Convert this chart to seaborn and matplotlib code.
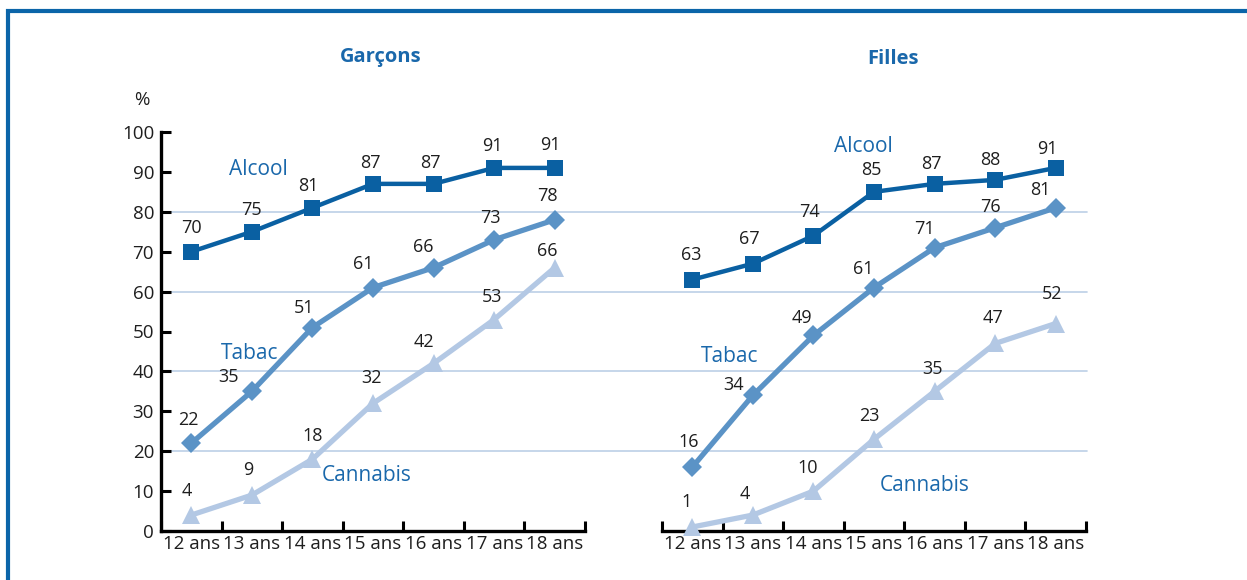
import matplotlib
matplotlib.use("Agg")
import matplotlib.pyplot as plt
from matplotlib.patches import Rectangle
import pandas as pd
import seaborn as sns

# --- data -------------------------------------------------------------
ages = ["12 ans", "13 ans", "14 ans", "15 ans", "16 ans", "17 ans", "18 ans"]
panels = ["Garçons", "Filles"]
substances = ["Alcool", "Tabac", "Cannabis"]

garcons_alcool = [70, 75, 81, 87, 87, 91, 91]
garcons_tabac = [22, 35, 51, 61, 66, 73, 78]
garcons_cannabis = [4, 9, 18, 32, 42, 53, 66]

filles_alcool = [63, 67, 74, 85, 87, 88, 91]
filles_tabac = [16, 34, 49, 61, 71, 76, 81]
filles_cannabis = [1, 4, 10, 23, 35, 47, 52]

y_ticks = [0, 10, 20, 30, 40, 50, 60, 70, 80, 90, 100]
grid_levels = [20, 40, 60, 80]

values = {
    ("Garçons", "Alcool"): garcons_alcool,
    ("Garçons", "Tabac"): garcons_tabac,
    ("Garçons", "Cannabis"): garcons_cannabis,
    ("Filles", "Alcool"): filles_alcool,
    ("Filles", "Tabac"): filles_tabac,
    ("Filles", "Cannabis"): filles_cannabis,
}

rows = []
for (panel, sub), vals in values.items():
    for i, (age, v) in enumerate(zip(ages, vals)):
        rows.append({"panel": panel, "substance": sub, "pos": i, "age": age, "value": v})
df = pd.DataFrame(rows)

# --- styling ----------------------------------------------------------
sns.set_style("white")
plt.rcParams["font.family"] = ["Open Sans", "DejaVu Sans"]

BLUE_TEXT = "#1a68ab"
FRAME = "#0b65a9"
GRID = "#bccfe6"
TXT = "#1e1e1e"
styles = {
    "Alcool": dict(color="#0a60a2", marker="s", markersize=11, linewidth=3.2),
    "Tabac": dict(color="#5b93c6", marker="D", markersize=10.5, linewidth=3.8),
    "Cannabis": dict(color="#b3c8e4", marker="^", markersize=13.5, linewidth=3.8),
}

# label offsets in pixels (dx, dy) relative to each marker
offsets = {
    ("Garçons", "Alcool"): [(0, 24), (0, 22), (-4, 22), (-3, 21), (-3, 21), (-2, 22), (-4, 23)],
    ("Garçons", "Tabac"): [(-3, 23), (-23, 14), (-8, 20), (-10, 24), (-10, 21), (-4, 22), (-7, 24)],
    ("Garçons", "Cannabis"): [(-4, 24), (-4, 25), (0, 23), (-1, 25), (-10, 21), (-2, 23), (-7, 17)],
    ("Filles", "Alcool"): [(-1, 25), (-4, 25), (-4, 24), (-3, 22), (-3, 20), (-5, 20), (-8, 19)],
    ("Filles", "Tabac"): [(-4, 25), (-19, 10), (-11, 17), (-11, 19), (-10, 19), (-5, 21), (-15, 18)],
    ("Filles", "Cannabis"): [(-6, 25), (-8, 21), (-6, 23), (-5, 23), (-2, 22), (-2, 25), (-4, 30)],
}

# series name positions (data coordinates)
name_pos = {
    ("Garçons", "Alcool"): (1.1, 90.5),
    ("Garçons", "Tabac"): (0.97, 44.5),
    ("Garçons", "Cannabis"): (2.9, 14.0),
    ("Filles", "Alcool"): (2.82, 96.3),
    ("Filles", "Tabac"): (0.61, 43.8),
    ("Filles", "Cannabis"): (3.83, 11.5),
}

W, H = 1247, 580
fig = plt.figure(figsize=(W / 100, H / 100), dpi=100)

# outer frame (open on the right and bottom)
fig.patches.append(Rectangle((8 / W, -0.2), 1.5, (H - 10.5) / H + 0.2,
                             transform=fig.transFigure, fill=False,
                             edgecolor=FRAME, linewidth=3.0, zorder=0))

ax_w = 424 / W
ax_h = 399 / H
ax_b = 1 - 531 / H
axes = [fig.add_axes([161 / W, ax_b, ax_w, ax_h]),
        fig.add_axes([662 / W, ax_b, ax_w, ax_h])]

for ax, panel in zip(axes, panels):
    sub_df = df[df["panel"] == panel]
    for sub in substances:
        st = styles[sub]
        sns.lineplot(data=sub_df[sub_df["substance"] == sub], x="pos", y="value",
                     ax=ax, color=st["color"], marker=st["marker"],
                     markersize=st["markersize"], linewidth=st["linewidth"],
                     markeredgewidth=0, markeredgecolor=st["color"],
                     legend=False, zorder=3, clip_on=False)
        for i, v in enumerate(values[(panel, sub)]):
            dx, dy = offsets[(panel, sub)][i]
            ax.annotate(str(v), (i, v), xytext=(dx, dy), textcoords="offset pixels",
                        ha="center", va="center", fontsize=13, color=TXT,
                        zorder=4, annotation_clip=False)
        nx, ny = name_pos[(panel, sub)]
        ax.text(nx, ny, sub, ha="center", va="center", fontsize=15, color=BLUE_TEXT)

    ax.set_xlim(-0.5, 6.5)
    ax.set_ylim(0, 100)
    ax.set_xlabel("")
    ax.set_ylabel("")
    ax.set_xticks([i - 0.5 for i in range(len(ages) + 1)])
    ax.set_xticklabels([])
    ax.set_xticks(range(len(ages)), minor=True)
    ax.set_xticklabels(ages, minor=True)
    ax.tick_params(axis="x", which="major", direction="in", length=7.5, width=2.2,
                   color="black", bottom=True)
    ax.tick_params(axis="x", which="minor", length=0, pad=3, labelsize=13.5,
                   labelcolor=TXT)
    for s in ["top", "right"]:
        ax.spines[s].set_visible(False)
    ax.spines["bottom"].set_linewidth(2.4)
    ax.spines["bottom"].set_color("black")
    ax.set_facecolor("none")
    ax.grid(False)

# left panel y axis
axl, axr = axes
axl.set_yticks(y_ticks)
axl.tick_params(axis="y", direction="in", length=7.5, width=2.2, color="black",
                left=True, pad=5, labelsize=13.5, labelcolor=TXT)
axl.spines["left"].set_linewidth(2.4)
axl.spines["left"].set_color("black")
axr.spines["left"].set_visible(False)
axr.set_yticks([])

# horizontal reference lines running across both panels
span = (1087 - 161) / 424
for lvl in grid_levels:
    axl.axhline(lvl, xmin=0, xmax=span, color=GRID, linewidth=1.2, zorder=0, clip_on=False)

fig.text(142 / W, 1 - 100 / H, "%", ha="center", va="center", fontsize=13.5, color=TXT)
fig.text(381 / W, 1 - 57 / H, panels[0], ha="center", va="center", fontsize=14.5,
         fontweight="bold", color=BLUE_TEXT)
fig.text(893 / W, 1 - 59 / H, panels[1], ha="center", va="center", fontsize=14.5,
         fontweight="bold", color=BLUE_TEXT)

fig.savefig("out.png", dpi=100, facecolor="white")
